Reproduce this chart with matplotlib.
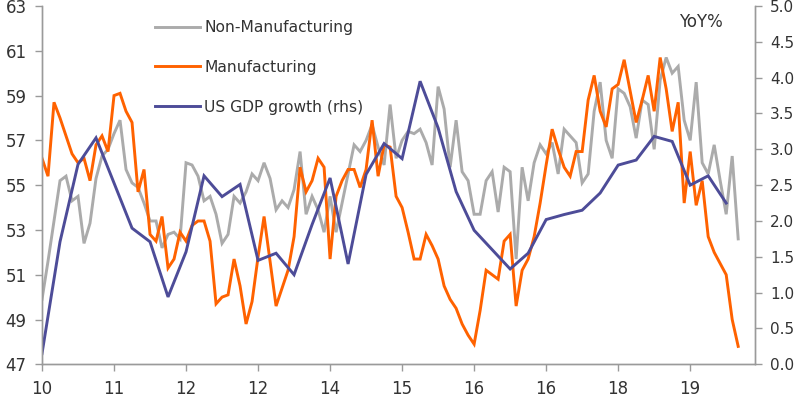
import matplotlib
matplotlib.use("Agg")
import matplotlib.pyplot as plt
import numpy as np

# ---- data (monthly, Jan 2010 = index 0 ... Sep 2019) ----
non_manufacturing = [
    49.9, 51.6, 53.4, 55.2, 55.4, 54.3, 54.5, 52.4, 53.3, 55.3, 56.3, 56.6,
    57.3, 57.9, 55.7, 55.1, 54.9, 54.2, 53.4, 53.4, 52.2, 52.8, 52.9, 52.6,
    56.0, 55.9, 55.4, 54.3, 54.5, 53.7, 52.4, 52.8, 54.5, 54.2, 54.7, 55.5,
    55.2, 56.0, 55.3, 53.9, 54.3, 54.0, 54.8, 56.5, 53.7, 54.5, 53.9, 52.9,
    54.5, 52.9, 54.2, 55.5, 56.8, 56.5, 57.0, 57.7, 56.7, 55.9, 58.6, 56.2,
    57.0, 57.4, 57.3, 57.5, 56.9, 55.9, 59.4, 58.4, 55.8, 57.9, 55.6, 55.2,
    53.7, 53.7, 55.2, 55.6, 53.8, 55.8, 55.6, 51.7, 55.8, 54.3, 56.0, 56.8,
    56.4, 56.9, 55.5, 57.5, 57.2, 56.9, 55.1, 55.5, 58.3, 59.6, 57.0, 56.2,
    59.3, 59.1, 58.5, 57.1, 58.8, 58.6, 56.6, 59.7, 60.7, 60.0, 60.3, 57.9,
    57.0, 59.6, 56.0, 55.5, 56.8, 55.2, 53.7, 56.3, 52.6,
]
manufacturing = [
    56.2, 55.4, 58.7, 58.0, 57.2, 56.4, 56.0, 56.2, 55.2, 56.8, 57.2, 56.5,
    59.0, 59.1, 58.3, 57.8, 54.7, 55.7, 52.8, 52.5, 53.6, 51.3, 51.7, 52.9,
    52.5, 53.2, 53.4, 53.4, 52.5, 49.7, 50.0, 50.1, 51.7, 50.5, 48.8, 49.8,
    51.8, 53.6, 51.6, 49.6, 50.4, 51.2, 52.7, 55.8, 54.7, 55.2, 56.2, 55.8,
    51.7, 54.5, 55.2, 55.7, 55.7, 54.9, 55.7, 57.9, 55.4, 56.8, 56.7, 54.5,
    54.0, 52.9, 51.7, 51.7, 52.8, 52.3, 51.7, 50.5, 49.9, 49.5, 48.8, 48.3,
    47.9, 49.4, 51.2, 51.0, 50.8, 52.5, 52.8, 49.6, 51.2, 51.7, 52.7, 54.2,
    55.9, 57.5, 56.6, 55.8, 55.4, 56.5, 56.5, 58.8, 59.9, 58.3, 57.6, 59.3,
    59.5, 60.6, 59.2, 57.8, 58.8, 59.9, 58.3, 60.7, 59.3, 57.4, 58.7, 54.2,
    56.5, 54.1, 55.2, 52.7, 52.0, 51.5, 51.0, 49.0, 47.8,
]
# quarterly US GDP growth YoY% (rhs), every 3rd month from index 0
gdp_growth = [
    0.15, 1.71, 2.79, 3.16, 2.53, 1.90, 1.71, 0.94, 1.57, 2.63, 2.34, 2.51,
    1.45, 1.55, 1.25, 1.95, 2.60, 1.40, 2.65, 3.08, 2.87, 3.95, 3.30, 2.41,
    1.87, 1.60, 1.33, 1.55, 2.02, 2.09, 2.15, 2.39, 2.78, 2.85, 3.18, 3.11,
    2.50, 2.63, 2.25,
]
year_labels = ["10", "11", "12", "12", "14", "15", "16", "16", "18", "19"]
left_ticks = [47, 49, 51, 53, 55, 57, 59, 61, 63]
right_ticks = [0.0, 0.5, 1.0, 1.5, 2.0, 2.5, 3.0, 3.5, 4.0, 4.5, 5.0]

GREY = "#ABABAB"
ORANGE = "#FF6200"
BLUE = "#4D4C98"
SPINE = "#9A9A9A"
TXT = "#333333"

plt.rcParams["font.family"] = ["DejaVu Sans"]

fig = plt.figure(figsize=(7.96, 4.04), dpi=100)
ax = fig.add_axes([42 / 796, 1 - 364.3 / 404, (755 - 42) / 796, (364.3 - 6.0) / 404])
ax2 = ax.twinx()

xm = np.arange(len(manufacturing))
xq = np.arange(len(gdp_growth)) * 3

l1, = ax.plot(np.arange(len(non_manufacturing)), non_manufacturing, color=GREY, lw=2.1,
              label="Non-Manufacturing", solid_joinstyle="miter")
l2, = ax.plot(xm, manufacturing, color=ORANGE, lw=2.1, label="Manufacturing",
              solid_joinstyle="miter")
l3, = ax2.plot(xq, gdp_growth, color=BLUE, lw=2.1, label="US GDP growth (rhs)",
               solid_joinstyle="miter")

ax.set_xlim(0, 118.8)
ax.set_ylim(47, 63)
ax2.set_ylim(0, 5.0)
ax.set_xticks(np.arange(len(year_labels)) * 12)
ax.set_xticklabels(year_labels)
ax.set_yticks(left_ticks)
ax.set_yticklabels([str(v) for v in left_ticks])
ax2.set_yticks(right_ticks)
ax2.set_yticklabels([f"{v:.1f}" for v in right_ticks])

for a in (ax, ax2):
    a.spines["top"].set_visible(False)
    for s in ("left", "right", "bottom"):
        a.spines[s].set_color(SPINE)
        a.spines[s].set_linewidth(1.0)
    a.tick_params(colors=SPINE, labelcolor=TXT, labelsize=12, length=5, width=1.0)
ax.tick_params(axis="y", pad=6)
ax.tick_params(axis="x", pad=6)
ax2.tick_params(axis="y", pad=6, labelsize=11)

leg = ax.legend(handles=[l1, l2, l3], loc="upper left",
                bbox_to_anchor=(0.139, 1.0), frameon=False,
                fontsize=11.2, handlelength=2.9, handletextpad=0.25,
                labelspacing=1.6, borderaxespad=0.5)
for t in leg.get_texts():
    t.set_color(TXT)

ax.text(0.955, 0.955, "YoY%", transform=ax.transAxes, ha="right", va="center",
        fontsize=12, color=TXT)

fig.savefig("out.png", dpi=100)
